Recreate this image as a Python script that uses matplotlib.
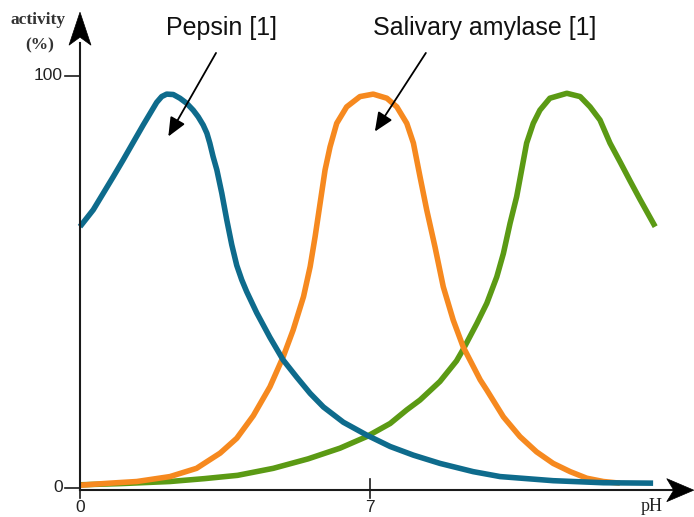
import matplotlib
matplotlib.use("Agg")
import matplotlib.pyplot as plt
from matplotlib.patches import Polygon
from matplotlib.transforms import Affine2D

# --- data ---
pepsin_ph = [0.0, 0.32, 0.56, 0.80, 1.04, 1.29, 1.53, 1.69, 1.85, 1.97, 2.09, 2.25,
             2.41, 2.57, 2.73, 2.85, 2.97, 3.06, 3.13, 3.21, 3.30, 3.42, 3.54, 3.66,
             3.78, 3.90, 4.02, 4.26, 4.58, 4.90, 5.23, 5.55, 5.87, 6.35, 6.91, 7.48,
             8.04, 8.68, 9.48, 10.13, 11.41, 12.62, 13.82]
pepsin_act = [63.4, 67.5, 71.5, 75.5, 79.6, 84.0, 88.2, 90.9, 93.6, 95.0, 95.6, 95.5,
              94.6, 93.4, 91.7, 90.1, 88.1, 86.1, 83.7, 80.4, 77.2, 71.5, 65.0, 59.0,
              54.0, 50.5, 47.6, 42.5, 36.5, 31.0, 26.8, 22.9, 19.6, 15.9, 12.8, 10.0,
              7.9, 5.9, 3.9, 2.7, 1.7, 1.2, 1.1]

amylase_ph = [0.0, 0.72, 1.37, 2.17, 2.81, 3.38, 3.78, 4.18, 4.58, 4.90, 5.14, 5.39,
              5.55, 5.67, 5.79, 5.91, 6.03, 6.19, 6.43, 6.75, 7.07, 7.40, 7.64, 7.88,
              8.04, 8.20, 8.36, 8.56, 8.76, 9.00, 9.24, 9.65, 9.81, 10.21, 10.61, 11.01,
              11.41, 11.82, 12.22, 12.62, 13.02]
amylase_act = [0.6, 1.1, 1.5, 2.7, 4.7, 8.4, 12.0, 17.5, 24.5, 31.8, 38.3, 46.4,
               53.7, 61.0, 69.1, 77.2, 82.8, 88.5, 92.5, 95.0, 95.6, 94.6, 92.5, 88.5,
               83.7, 75.5, 67.5, 58.5, 48.8, 40.7, 34.2, 26.2, 23.7, 17.2, 12.4, 8.7,
               5.9, 3.9, 2.3, 1.5, 1.1]

alk_ph = [0.0, 1.0, 2.17, 3.0, 3.8, 4.66, 5.5, 6.27, 6.91, 7.48, 7.88, 8.20, 8.68,
          9.08, 9.24, 9.57, 9.81, 10.05, 10.21, 10.37, 10.53, 10.65, 10.77, 10.93,
          11.09, 11.33, 11.74, 12.06, 12.30, 12.54, 12.78, 13.02, 13.26, 13.50, 13.87]
alk_act = [0.7, 1.0, 1.5, 2.2, 3.0, 4.7, 7.0, 9.6, 12.4, 15.6, 18.9, 21.3, 25.8,
           30.8, 33.6, 39.9, 44.8, 51.2, 56.9, 64.2, 70.7, 77.2, 83.7, 88.5,
           91.7, 94.6, 95.8, 95.0, 92.5, 89.3, 83.7, 79.2, 74.6, 70.1, 63.4]

x_ticks = [0, 7]
x_tick_labels = ["0", "7"]
y_ticks = [0, 100]
y_tick_labels = ["0", "100"]

BLUE = "#0e6b8c"
ORANGE = "#f6891f"
GREEN = "#5b9a14"

fig = plt.figure(figsize=(6.94, 5.17), dpi=100)
ax = fig.add_axes([0, 0, 1, 1])
ax.set_xlim(-1.929, 14.806)
ax.set_ylim(-7.12, 118.46)
ax.axis("off")

lw = 4.0
for xs, ys, c in [(alk_ph, alk_act, GREEN), (amylase_ph, amylase_act, ORANGE),
                  (pepsin_ph, pepsin_act, BLUE)]:
    ax.plot(xs, ys, color=c, lw=lw, solid_capstyle="butt", solid_joinstyle="round",
            zorder=3)

axc = "#1a1a1a"
# axis lines
ax.plot([0, 0], [-0.6, 108], color=axc, lw=1.5, zorder=4)
ax.plot([0, 14.3], [-0.6, -0.6], color=axc, lw=1.5, zorder=4)


def stealth(tip_data, length, half_w, notch, angle):
    tx, ty = ax.transData.transform(tip_data)
    verts = [(0, 0), (-length, half_w), (-length + notch, 0), (-length, -half_w)]
    tr = Affine2D().rotate_deg(angle).translate(tx, ty)
    p = Polygon(verts, closed=True, facecolor="black", edgecolor="black",
                lw=0.5, transform=tr, zorder=5)
    ax.add_patch(p)


stealth((0, 115.5), 33, 11, 8, 90)
stealth((14.8, -0.6), 27, 11.5, 7, 0)

# ticks
for yv, lab in zip(y_ticks, y_tick_labels):
    ax.plot([-0.36, 0], [yv, yv], color=axc, lw=1.2, zorder=4)
    ax.text(-0.42, yv, lab, ha="right", va="center", fontsize=12.5,
            family="Liberation Sans", color="#222222")
for xv, lab in zip(x_ticks, x_tick_labels):
    ax.plot([xv, xv], [2.2, -2.4], color=axc, lw=1.2, zorder=4)
    ax.text(xv, -3.0, lab, ha="center", va="top", fontsize=12.5,
            family="Liberation Sans", color="#222222")

ax.text(13.78, -2.6, "pH", ha="center", va="top", fontsize=13,
        family="Liberation Serif", color="#222222")
ax.text(-1.01, 113.7, "activity", ha="center", va="center", fontsize=12.5,
        family="Liberation Serif", fontweight="bold", color="#333333")
ax.text(-0.96, 107.4, "(%)", ha="center", va="center", fontsize=12.5,
        family="Liberation Serif", fontweight="bold", color="#333333")

# annotations
for tip, start in [((2.13, 85.3), (3.28, 105.6)), ((7.11, 86.5), (8.34, 105.6))]:
    ax.annotate("", xy=tip, xytext=start,
                arrowprops=dict(arrowstyle="-|>,head_length=1.15,head_width=0.5",
                                color="black", lw=1.3, shrinkA=0, shrinkB=0),
                zorder=5)
ax.text(3.42, 111.6, "Pepsin [1]", ha="center", va="center", fontsize=18,
        family="Liberation Sans", color="#111111")
ax.text(9.77, 111.6, "Salivary amylase [1]", ha="center", va="center", fontsize=18,
        family="Liberation Sans", color="#111111")

fig.savefig("out.png", dpi=100, facecolor="white")
